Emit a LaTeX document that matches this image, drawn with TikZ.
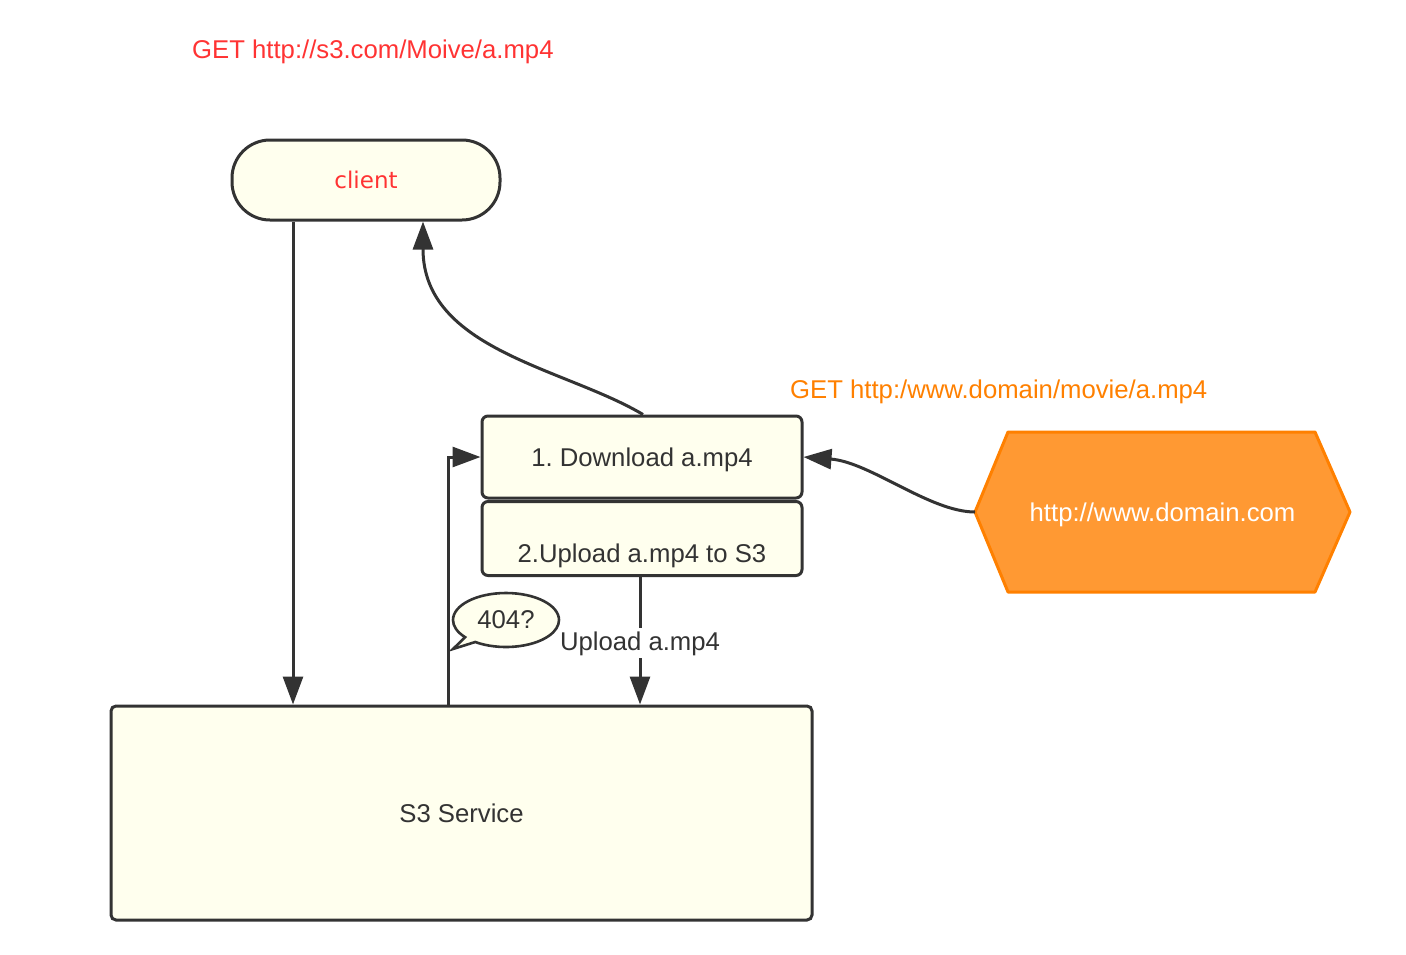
\documentclass[tikz,border=0pt]{standalone}
\usepackage{fontspec}
\setmainfont{Liberation Sans}
\newfontfamily\clientfont{DejaVu Sans}
\usetikzlibrary{arrows.meta,shapes.callouts}
\definecolor{ink}{HTML}{333333}
\definecolor{paper}{HTML}{FFFFEE}
\definecolor{redtxt}{HTML}{FF3333}
\definecolor{orangetxt}{HTML}{FF8000}
\definecolor{hexfill}{HTML}{FF9933}
\begin{document}
\frenchspacing
\begin{tikzpicture}[x=1pt,y=-1pt,
  box/.style={draw=ink, fill=paper, line width=3pt, inner sep=0pt, text depth=0pt,
              font=\fontsize{25.7}{30}\selectfont, text=ink},
  txt/.style={font=\fontsize{25.7}{30}\selectfont, inner sep=0pt},
  arr/.style={draw=ink, line width=3pt, -{Triangle[length=28pt,width=20pt]}},
]
\useasboundingbox (0,0) rectangle (1406,954);

% texts on top
\node[txt, text=redtxt, anchor=base west] (gets3) at (192,58) {GET http://s3.com/Moive/a.mp4};
\node[txt, text=orangetxt, anchor=base west] (getdom) at (790,398) {GET http:/www.domain/movie/a.mp4};

% nodes
\node[box, rounded corners=38pt, minimum width=268pt, minimum height=80pt,
      font=\clientfont\fontsize{23}{28}\selectfont, text=redtxt] (client) at (366,180) {client};
\node[box, rounded corners=6pt, minimum width=320pt, minimum height=82pt] (download) at (642,457) {1. Download a.mp4};
\node[box, rounded corners=6pt, minimum width=320pt, minimum height=74pt] (upload) at (642,538.5) {};
\node[txt, text=ink, anchor=base] (uploadtxt) at (642,562) {2.Upload a.mp4 to S3};
\node[box, rounded corners=5pt, minimum width=701pt, minimum height=214pt] (s3) at (461.5,813) {S3 Service};

% hexagon
\draw[draw=orangetxt, fill=hexfill, line width=3pt, line join=round]
  (975,512) -- (1008,432) -- (1315,432) -- (1350,512) -- (1315,592) -- (1008,592) -- cycle;
\coordinate (hexW) at (975,512);
\node[txt, text=white, text depth=0pt] (hex) at (1162.5,512) {http://www.domain.com};

% callout
\node[ellipse callout, draw=ink, fill=paper, line width=2.6pt, minimum width=106pt, minimum height=54pt,
      inner sep=0pt, text depth=0pt, callout absolute pointer={(453,649)},
      font=\fontsize{25.7}{30}\selectfont, text=ink] (q404) at (506,620) {404?};

% connectors
\draw[arr] ([xshift=-73pt]client.south) -- ([xshift=-73pt]client.south |- s3.north);
\draw[arr] ([xshift=1pt]download.north) .. controls (565,368) and (423,350) .. ([xshift=57pt]client.south);
\draw[arr] ([xshift=-13.5pt]s3.north) |- (download.west);
\draw[arr] ([xshift=-2pt]upload.south) -- ([xshift=-2pt]upload.south |- s3.north);
\draw[arr] (hexW) .. controls (930,512) and (870,462) .. (download.east);

\node[txt, text=ink, anchor=base, fill=white, inner ysep=3pt] (uplbl) at (640,650) {Upload a.mp4};
\end{tikzpicture}
\end{document}
